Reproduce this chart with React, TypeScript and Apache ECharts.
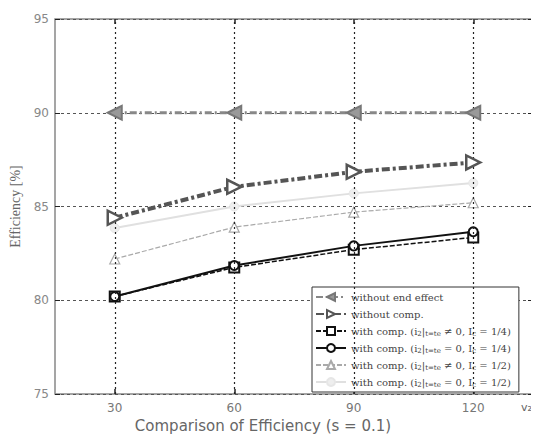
import React, { useEffect, useRef } from "react";
import * as echarts from "echarts";

const xValues = [30, 60, 90, 120];
const yTicks = [75, 80, 85, 90, 95];
const noEndEffect = [90, 90, 90, 90];
const noComp = [84.4, 86.05, 86.85, 87.35];
const compSquare = [80.2, 81.75, 82.7, 83.35];
const compCircle = [80.2, 81.85, 82.9, 83.65];
const compTriangle = [82.2, 83.9, 84.7, 85.2];
const compLight = [83.85, 85.0, 85.7, 86.25];

const seriesNames = ["s1", "s2", "s3", "s4", "s5", "s6"];
const legendLabels: Record<string, string> = {
  s1: "without end effect",
  s2: "without comp.",
  s3: "with comp. (i{sub|2}|{sub|t=te} \u2260 0, I{sub|c} = 1/4)",
  s4: "with comp. (i{sub|2}|{sub|t=te} = 0, I{sub|c} = 1/4)",
  s5: "with comp. (i{sub|2}|{sub|t=te} \u2260 0, I{sub|c} = 1/2)",
  s6: "with comp. (i{sub|2}|{sub|t=te} = 0, I{sub|c} = 1/2)",
};

const pair = (ys: number[]) => xValues.map((x, i) => [x, ys[i]]);

export default function App() {
  const ref = useRef<HTMLDivElement>(null);
  useEffect(() => {
    if (!ref.current) return;
    const chart = echarts.init(ref.current, null, { renderer: "svg" });
    const serif = "DejaVu Serif";
    const sans = "DejaVu Sans";
    chart.setOption({
      animation: false,
      backgroundColor: "#fff",
      grid: {
        left: 55,
        right: 6,
        top: 19,
        bottom: 48,
        show: true,
        borderColor: "#888",
        borderWidth: 1.5,
      },
      xAxis: [
        {
          type: "value",
          min: 15,
          max: 135,
          axisLine: { show: false },
          splitLine: { show: false },
          axisTick: {
            inside: true,
            length: 5,
            customValues: xValues,
            lineStyle: { color: "#222", width: 1.5 },
          },
          axisLabel: {
            customValues: xValues,
            color: "#777",
            fontFamily: sans,
            fontSize: 12,
            margin: 8,
          },
        },
        {
          type: "value",
          position: "top",
          min: 15,
          max: 135,
          axisLine: { show: false },
          splitLine: { show: false },
          axisTick: {
            inside: true,
            length: 5,
            customValues: xValues,
            lineStyle: { color: "#222", width: 1.5 },
          },
          axisLabel: { show: false },
        },
      ],
      yAxis: [
        {
          type: "value",
          min: 75,
          max: 95,
          interval: 5,
          name: "Efficiency [%]",
          nameLocation: "middle",
          nameGap: 30,
          nameTextStyle: { color: "#666", fontFamily: "Liberation Serif", fontSize: 14 },
          axisLine: { show: false },
          axisTick: { inside: true, length: 5, lineStyle: { color: "#222" } },
          axisLabel: {
            color: "#888",
            fontFamily: sans,
            fontSize: 12,
            margin: 6,
            formatter: (v: number) => (yTicks.includes(v) ? String(v) : ""),
          },
          splitLine: {
            show: true,
            lineStyle: { color: "#555", type: [3, 3], width: 1 },
          },
        },
        {
          type: "value",
          position: "right",
          min: 75,
          max: 95,
          interval: 5,
          axisLine: { show: false },
          axisTick: { inside: true, length: 5, lineStyle: { color: "#222" } },
          axisLabel: { show: false },
          splitLine: { show: false },
        },
      ],
      legend: {
        orient: "vertical",
        left: 312,
        top: 287,
        backgroundColor: "#fff",
        borderColor: "#333",
        borderWidth: 1,
        borderRadius: 0,
        padding: [3, 8, 3, 3],
        itemGap: 3,
        itemWidth: 30,
        itemHeight: 10,
        data: seriesNames,
        formatter: (name: string) => legendLabels[name],
        textStyle: {
          fontFamily: serif,
          fontSize: 10,
          color: "#444",
          lineHeight: 14,
          rich: {
            sub: { fontSize: 7, fontFamily: serif, color: "#444", padding: [6, 0, 0, 0] },
          },
        },
      },
      graphic: [
        {
          type: "text",
          x: 263,
          y: 418,
          style: {
            text: "Comparison of Efficiency (s = 0.1)",
            fill: "#666",
            font: "15px DejaVu Sans",
            align: "center",
            verticalAlign: "top",
          },
        },
        {
          type: "text",
          x: 521,
          y: 402,
          style: { text: "v\u2082", fill: "#666", font: "11px DejaVu Sans" },
        },
      ],
      series: [
        {
          name: "s1",
          type: "line",
          data: pair(noEndEffect),
          symbol: "triangle",
          symbolRotate: 90,
          symbolSize: 14,
          z: 5,
          itemStyle: { color: "#999", borderColor: "#777", borderWidth: 2 },
          lineStyle: { color: "#888", width: 3, type: [7, 3, 2, 3] },
          markLine: {
            silent: true,
            symbol: "none",
            label: { show: false },
            lineStyle: { color: "#222", type: [2, 3], width: 1.2 },
            data: xValues.map((x) => ({ xAxis: x })),
          },
        },
        {
          name: "s2",
          type: "line",
          data: pair(noComp),
          symbol: "triangle",
          symbolRotate: -90,
          symbolSize: 14,
          z: 5,
          itemStyle: { color: "#fff", borderColor: "#555", borderWidth: 2.5 },
          lineStyle: { color: "#555", width: 4, type: [8, 3, 3, 3] },
        },
        {
          name: "s3",
          type: "line",
          data: pair(compSquare),
          symbol: "rect",
          symbolSize: 10,
          z: 4,
          itemStyle: { color: "#fff", borderColor: "#111", borderWidth: 2 },
          lineStyle: { color: "#111", width: 1.5, type: [5, 2] },
        },
        {
          name: "s4",
          type: "line",
          data: pair(compCircle),
          symbol: "circle",
          symbolSize: 9,
          z: 4,
          itemStyle: { color: "#fff", borderColor: "#111", borderWidth: 2 },
          lineStyle: { color: "#111", width: 2 },
        },
        {
          name: "s5",
          type: "line",
          data: pair(compTriangle),
          symbol: "triangle",
          symbolSize: 10,
          z: 4,
          itemStyle: { color: "#fff", borderColor: "#aaa", borderWidth: 1.2 },
          lineStyle: { color: "#aaa", width: 1.2, type: [5, 2] },
        },
        {
          name: "s6",
          type: "line",
          data: pair(compLight),
          symbol: "circle",
          symbolSize: 9,
          z: 3,
          itemStyle: { color: "#eee", borderColor: "#e6e6e6", borderWidth: 1 },
          lineStyle: { color: "#e0e0e0", width: 2 },
        },
      ],
    });
    return () => chart.dispose();
  }, []);
  return <div ref={ref} style={{ width: 539, height: 442, margin: -8 }} />;
}
